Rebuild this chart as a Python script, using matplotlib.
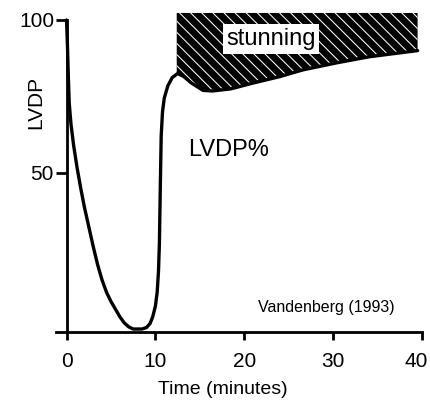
import matplotlib
matplotlib.use('Agg')
import matplotlib.pyplot as plt
from matplotlib.transforms import ScaledTranslation
import numpy as np

# LVDP (% of baseline) during ischemia and reperfusion
time = [0, 0.1, 0.2, 0.3, 0.5, 0.8, 1.2, 1.6, 2.0, 2.5, 3.0, 3.5, 4.0, 4.5,
        5.0, 5.5, 6.0, 6.5, 7.0, 7.5, 8.5, 9.0, 9.4, 9.7, 10.0, 10.2, 10.35,
        10.45, 10.55, 10.65, 10.8, 11.0, 11.4, 11.9, 12.5, 13.2, 14.0, 15.35,
        16.4, 18.5, 21, 24, 26.6, 30.4, 34.1, 39.5]
lvdp = [100, 92, 82, 73, 66, 59, 51.5, 45, 39, 32.5, 26, 20, 15, 11,
        8, 5.5, 3, 1, -0.3, -1, -1, -0.5, 0.8, 3, 6.5, 11, 18,
        27, 45, 62, 70, 74.5, 78.5, 81.2, 82.5, 81.5, 79.5, 77,
        76.8, 77.5, 79.4, 81.5, 83.7, 86, 88, 90]

stun_start = 12.4
stun_top = 102.3

xticks = [0, 10, 20, 30, 40]
yticks = [50, 100]

plt.rcParams['font.family'] = ['Liberation Sans', 'DejaVu Sans']
plt.rcParams['hatch.linewidth'] = 0.75

fig = plt.figure(figsize=(4.3, 4.05), dpi=100)
ax = fig.add_axes([0.1237, 0.1763, 0.8681, 0.797])

t = np.array(time)
v = np.array(lvdp)

# stunning area between the recovery curve and full function
m = t >= stun_start
ts = np.concatenate([[stun_start], t[m]])
vs = np.concatenate([[np.interp(stun_start, t, v)], v[m]])
ax.fill_between(ts, vs, stun_top, facecolor='black', edgecolor='white',
                hatch='\\\\\\', linewidth=0, zorder=1)

ax.plot(t, v, color='black', linewidth=2.4, solid_capstyle='round',
        solid_joinstyle='round', zorder=3)

ax.set_xlim(-1.5, 40.5)
ax.set_ylim(-2.5, 103)

for s in ['top', 'right']:
    ax.spines[s].set_visible(False)
ax.spines['left'].set_position(('data', 0))
ax.spines['bottom'].set_position(('data', -2))
ax.spines['left'].set_bounds(-2, 100)
ax.spines['bottom'].set_bounds(-1.2, 40)
ax.spines['left'].set_linewidth(2)
ax.spines['bottom'].set_linewidth(2)

ax.set_xticks(xticks)
ax.set_yticks(yticks)
ax.tick_params(axis='x', length=6, width=2, pad=8, labelsize=15)
ax.tick_params(axis='y', length=8, width=2, pad=1, labelsize=15)

# last x tick label sits at the very edge; nudge it inside
last = ax.get_xticklabels()[-1]
last.set_transform(last.get_transform() + ScaledTranslation(-4 / 72, 0, fig.dpi_scale_trans))

ax.text(23, 93.8, 'stunning', fontsize=17, ha='center', va='center', zorder=4,
        bbox=dict(boxstyle='square,pad=0.15', facecolor='white', edgecolor='none'))
ax.text(13.67, 57.5, 'LVDP%', fontsize=17, ha='left', va='center')
ax.text(29.25, 5.9, 'Vandenberg (1993)', fontsize=11.5, ha='center', va='center')

fig.text(36 / 430, 1 - 102 / 405, 'LVDP', rotation=90, fontsize=15,
         ha='center', va='center')
fig.text(222.5 / 430, 1 - 390 / 405, 'Time (minutes)', fontsize=14,
         ha='center', va='center')

fig.savefig('out.png', dpi=100)
